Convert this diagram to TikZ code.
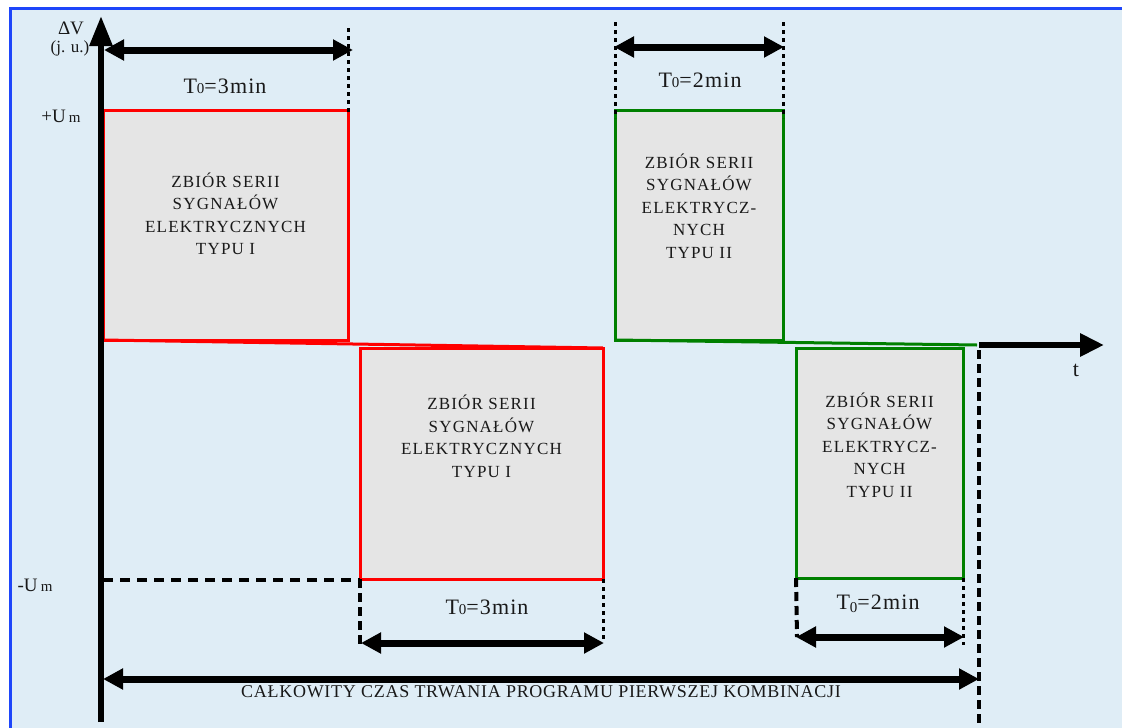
\documentclass[tikz,border=0pt]{standalone}
\usepackage{fontspec}
\setmainfont{Liberation Serif}
\usetikzlibrary{arrows.meta}
\definecolor{bgblue}{RGB}{223,237,246}
\definecolor{frameblue}{RGB}{30,70,250}
\definecolor{boxgray}{RGB}{229,229,229}
\definecolor{sigred}{RGB}{255,0,0}
\definecolor{siggreen}{RGB}{0,128,0}
\definecolor{txt}{RGB}{25,25,25}
\newcommand{\bxfont}{\fontsize{17}{22.5}\selectfont\addfontfeature{LetterSpace=7}}
\newcommand{\tfont}{\fontsize{22}{24}\selectfont\addfontfeature{LetterSpace=5}}
\newcommand{\sm}[1]{{\fontsize{15}{15}\selectfont #1}}
\begin{document}
\begin{tikzpicture}[x=1pt,y=-1pt,
  sigbox/.style={line width=3pt, fill=boxgray, anchor=north west, inner sep=0pt, outer sep=0pt},
  boxtext/.style={text=txt, align=center, font=\bxfont, inner sep=0pt},
  lbl/.style={text=txt, inner sep=0pt},
  axis/.style={line width=6pt, -{Triangle[length=30pt,width=22pt]}},
  dim/.style={line width=7pt, {Triangle[length=20pt,width=20pt]}-{Triangle[length=20pt,width=20pt]}},
  guide/.style={line width=3pt, dash pattern=on 4pt off 4pt},
  guidedash/.style={line width=4pt, dash pattern=on 9pt off 5pt}
]
\useasboundingbox (0,0) rectangle (1122,728);
\fill[white] (0,0) rectangle (1122,728);
\begin{scope}
\clip (0,0) rectangle (1122,728);
\draw[frameblue, line width=3pt, fill=bgblue] (10,8) rectangle (1140,745);
\end{scope}

% boxes
\node[sigbox, draw=sigred, minimum width=245pt, minimum height=230pt] (b1) at (103,110) {};
\node[sigbox, draw=sigred, minimum width=243pt, minimum height=231pt] (b2) at (360,348) {};
\node[sigbox, draw=siggreen, minimum width=168pt, minimum height=230pt] (g1) at (615,110) {};
\node[sigbox, draw=siggreen, minimum width=167pt, minimum height=230pt] (g2) at (796,348) {};

\node[boxtext] (t1) at ([yshift=11pt]b1.center) {ZBIÓR SERII\\SYGNAŁÓW\\ELEKTRYCZNYCH\\TYPU I};
\node[boxtext] (t2) at ([yshift=27pt]b2.center) {ZBIÓR SERII\\SYGNAŁÓW\\ELEKTRYCZNYCH\\TYPU I};
\node[boxtext] (t3) at ([yshift=19pt]g1.center) {ZBIÓR SERII\\SYGNAŁÓW\\ELEKTRYCZ-\\NYCH\\TYPU II};
\node[boxtext] (t4) at ([yshift=18pt]g2.center) {ZBIÓR SERII\\SYGNAŁÓW\\ELEKTRYCZ-\\NYCH\\TYPU II};

% coordinates
\coordinate (o) at (101,722);
\coordinate (ytop) at (101,16);
\coordinate (o2) at (979,345);
\coordinate (tend) at (1104,345);
\coordinate (bot2) at (979,728);

% signal connectors
\draw[sigred, line width=3pt] (b1.south west) -- (b2.north east);
\draw[siggreen, line width=3pt] (g1.south west) -- ([xshift=-2pt]o2);

% axes
\draw[axis] (o) -- (ytop);
\draw[line width=6pt, -{Triangle[length=24pt,width=22pt]}] (o2) -- (tend);
\draw[guidedash] ([yshift=-5pt]o2) -- (bot2);

% -Um dashed
\coordinate (um0) at (103,580);
\draw[line width=3.5pt, dash pattern=on 10pt off 7pt] (um0) -- (um0 -| b2.south west);

% top T0=3min
\coordinate (a1l) at (104,50);
\coordinate (a1r) at (353,50);
\coordinate (v1t) at (348,28);
\draw[guide] (v1t) -- ([yshift=-2pt]b1.north east);
\draw[dim] (a1l) -- (a1r);
\node[lbl, font=\tfont] (l1) at (225,86) {T\sm{0}=3min};

% top T0=2min
\coordinate (a2l) at (614,47);
\coordinate (a2r) at (784,47);
\coordinate (v2a) at (615,22);
\coordinate (v2b) at (783,22);
\draw[guide] (v2a) -- ([yshift=-8pt]g1.north west);
\draw[guide] (v2b) -- ([yshift=-8pt]g1.north east);
\draw[dim] (a2l) -- (a2r);
\node[lbl, font=\tfont] (l2) at (700,80) {T\sm{0}=2min};

% bottom T0=3min
\coordinate (a3l) at (361,643);
\coordinate (a3r) at (604,643);
\coordinate (v3a) at (360,647);
\coordinate (v3b) at (603,640);
\draw[guidedash] (b2.south west) -- (v3a);
\draw[guide] (b2.south east) -- (v3b);
\draw[dim] (a3l) -- (a3r);
\node[lbl, font=\tfont] (l3) at (487,607) {T\sm{0}=3min};

% bottom T0=2min
\coordinate (a4l) at (796,637);
\coordinate (a4r) at (964,637);
\coordinate (v4a) at (797,637);
\coordinate (v4b) at (963,645);
\draw[guidedash] (g2.south west) -- (v4a);
\draw[guide] (g2.south east) -- (v4b);
\draw[dim] (a4l) -- (a4r);
\node[lbl, font=\tfont] (l4) at (878,604) {T\raisebox{-3pt}{\sm{0}}=2min};

% total
\coordinate (a5l) at (103,679);
\coordinate (a5r) at (979,679);
\draw[dim] (a5l) -- (a5r);
\node[lbl, font=\fontsize{18}{20}\selectfont\addfontfeature{LetterSpace=4}] (l5) at (541,692) {CAŁKOWITY CZAS TRWANIA PROGRAMU PIERWSZEJ KOMBINACJI};

% axis labels
\node[lbl, font=\fontsize{19}{20}\selectfont] (dv) at (71,28) {ΔV};
\node[lbl, font=\fontsize{17}{20}\selectfont] (ju) at (70,48) {(j. u.)};
\node[lbl, font=\fontsize{19}{20}\selectfont] (pu) at (61,116) {+U\,\sm{m}};
\node[lbl, font=\fontsize{19}{20}\selectfont] (mu) at (35,585) {-U\,\sm{m}};
\node[lbl, font=\fontsize{22}{22}\selectfont] (tl) at (1076,370) {t};
\end{tikzpicture}
\end{document}
